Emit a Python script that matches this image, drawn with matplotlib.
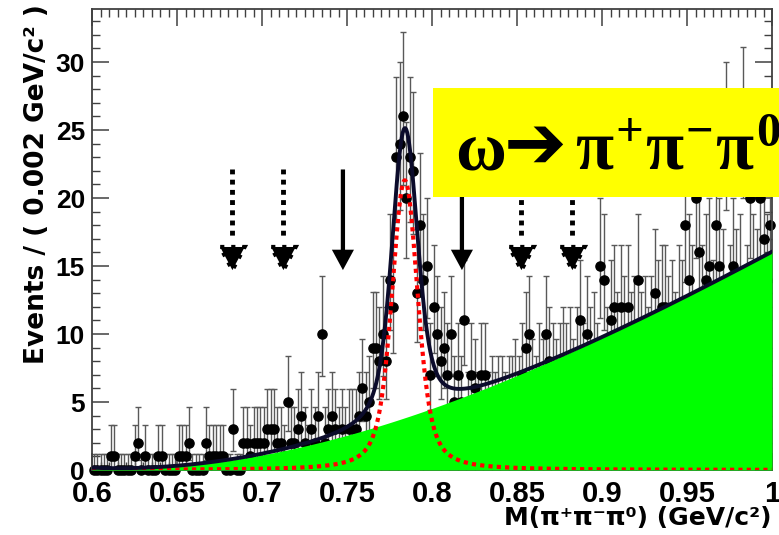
import matplotlib
matplotlib.use('Agg')
import matplotlib.pyplot as plt
from matplotlib.patches import Rectangle, Polygon
from matplotlib.ticker import MultipleLocator, FuncFormatter
import numpy as np

plt.rcParams['mathtext.fontset'] = 'custom'
plt.rcParams['mathtext.rm'] = 'Liberation Serif:bold'
plt.rcParams['mathtext.it'] = 'Liberation Serif:bold'
plt.rcParams['mathtext.bf'] = 'Liberation Serif:bold'

# 3-pion invariant mass, 200 bins of 2 MeV from 0.6 to 1.0 GeV
m_lo, m_hi, bin_w = 0.6, 1.0, 0.002
counts = [
    0, 0, 0, 0, 0, 1, 1, 0, 0, 0,
    0, 0, 1, 2, 0, 1, 0, 0, 0, 1,
    1, 0, 0, 0, 0, 1, 1, 1, 2, 0,
    0, 0, 0, 2, 1, 1, 1, 1, 1, 0,
    0, 3, 0, 0, 2, 2, 1, 2, 2, 2,
    2, 3, 3, 3, 2, 2, 1, 5, 2, 2,
    3, 4, 2, 1, 3, 2, 4, 10, 2, 3,
    4, 3, 2, 3, 2, 3, 3, 3, 4, 6,
    4, 5, 9, 9, 8, 10, 8, 14, 12, 23,
    24, 26, 20, 23, 22, 13, 18, 14, 15, 7,
    12, 10, 8, 9, 7, 10, 5, 7, 5, 11,
    4, 7, 6, 4, 7, 7, 4, 5, 4, 5,
    5, 4, 5, 5, 6, 5, 7, 9, 10, 6,
    5, 7, 6, 10, 8, 7, 6, 7, 8, 7,
    8, 6, 8, 11, 7, 10, 8, 9, 7, 15,
    14, 8, 11, 12, 9, 12, 10, 12, 9, 10,
    14, 9, 10, 8, 10, 13, 11, 12, 12, 10,
    11, 9, 12, 11, 18, 14, 12, 20, 16, 12,
    14, 15, 11, 18, 15, 13, 24, 12, 15, 13,
    14, 25, 12, 20, 14, 13, 20, 17, 14, 18,
]

# fit result: Breit-Wigner (x) Gaussian signal on a smooth background
omega_mass = 0.784
omega_width = 0.00849
resolution = 0.0055
signal_peak = 21.3
bkg_mass = [0.60, 0.65, 0.70, 0.75, 0.80, 0.85, 0.90, 0.95, 1.00]
bkg_level = [0.05, 0.40, 1.20, 2.60, 4.25, 6.90, 9.80, 13.0, 15.9]

# signal window and sidebands
signal_window = [0.7476, 0.8176]
sidebands = [0.6826, 0.7126, 0.8526, 0.8826]
arrow_top, arrow_tip = 22.1, 14.7

counts = np.array(counts, dtype=float)
centers = m_lo + bin_w * (np.arange(len(counts)) + 0.5)

# asymmetric poisson errors
lo_err = np.zeros_like(counts)
hi_err = np.zeros_like(counts)
nz = counts > 0
n = counts[nz]
lo_err[nz] = n - n * (1 - 1 / (9 * n) - 1 / (3 * np.sqrt(n))) ** 3
hi_err[nz] = 1 + np.sqrt(n + 0.75)
hi_err[~nz] = 1.148

xs = np.linspace(m_lo, m_hi, 1601)


def voigt(x):
    t = np.linspace(-6 * resolution, 6 * resolution, 801)
    g = np.exp(-0.5 * (t / resolution) ** 2)
    lor = 1.0 / ((np.atleast_1d(x)[:, None] - omega_mass - t[None, :]) ** 2 + (omega_width / 2) ** 2)
    return (lor * g).sum(axis=1)


sig = signal_peak * voigt(xs) / voigt(omega_mass)[0]
bkg = np.clip(np.polyval(np.polyfit(bkg_mass, bkg_level, 3), xs), 0, None)
total = sig + bkg

fig = plt.figure(figsize=(7.79, 5.35), dpi=100)
ax = fig.add_axes([92 / 779, 1 - 470 / 535, 680 / 779, 461 / 535])

eb = ax.errorbar(centers, counts, yerr=[lo_err, hi_err], fmt='o', ms=6.6,
                 mfc='k', mec='k', ecolor='0.35', elinewidth=1.0,
                 capsize=2, capthick=1.0, zorder=2)
eb[0].set_clip_on(False)

ax.fill_between(xs, 0, bkg, color='#00ff00', lw=0, zorder=3)
ax.plot(xs, sig, color='red', lw=3.0, ls=(0, (1.0, 1.0)), zorder=4)
ax.plot(xs, total, color='#0b0b2b', lw=2.8, zorder=5)

# signal window: solid arrows
for x in signal_window:
    ax.arrow(x, arrow_top, 0, arrow_tip - arrow_top, width=0.0025,
             head_width=0.013, head_length=1.5, length_includes_head=True,
             fc='k', ec='k', lw=0, zorder=7)

# sidebands: dotted arrows
for x in sidebands:
    ax.plot([x, x], [arrow_top, 17.0], color='k', lw=3.5,
            ls=(0, (1, 1.1)), zorder=7)
    head = Polygon([[x - 0.0072, 16.4], [x + 0.0072, 16.4], [x, arrow_tip]],
                   closed=True, fc='k', ec='k', lw=3, ls=':', zorder=7)
    ax.add_patch(head)

ax.set_xlim(m_lo, m_hi)
ax.set_ylim(0, 33.9)
ax.xaxis.set_major_locator(MultipleLocator(0.05))
ax.xaxis.set_minor_locator(MultipleLocator(0.005))
ax.yaxis.set_major_locator(MultipleLocator(5))
ax.yaxis.set_minor_locator(MultipleLocator(1))
ax.xaxis.set_major_formatter(FuncFormatter(lambda v, p: f'{v:g}'))
ax.tick_params(which='both', direction='in', top=True, right=True, color='0.25')
ax.tick_params(which='major', length=12, width=1.1)
ax.tick_params(which='minor', length=6, width=1.0)
ax.tick_params(axis='x', pad=7)
ax.tick_params(axis='y', pad=5)
for lab in ax.get_xticklabels():
    lab.set_fontfamily(['Liberation Sans Narrow', 'Liberation Sans'])
    lab.set_fontweight('bold')
    lab.set_fontsize(21)
for lab in ax.get_yticklabels():
    lab.set_fontfamily(['Liberation Sans Narrow', 'Liberation Sans'])
    lab.set_fontweight('bold')
    lab.set_fontsize(19)
for s in ax.spines.values():
    s.set_color('0.25')
    s.set_linewidth(1.3)

fig.text(37 / 779, 1 - 4 / 535, 'Events / ( 0.002 GeV/c² )', rotation=90,
         ha='center', va='top', fontsize=19, fontweight='bold',
         family='DejaVu Sans')
fig.text(772 / 779, 1 - 518 / 535, 'M(π⁺π⁻π⁰) (GeV/c²)', ha='right',
         va='center', fontsize=18, fontweight='bold', family='DejaVu Sans')

# decay label
fig.add_artist(Rectangle((433 / 779, 1 - 197 / 535), 0.46, 109 / 535,
                         transform=fig.transFigure, fc='#ffff00', ec='none',
                         zorder=10))
base = 1 - 170 / 535
fig.text(455 / 779, base, r'$\omega$', fontsize=50, va='baseline', zorder=11)
fig.text(504 / 779, base + 2 / 535, '➔', fontsize=54, fontweight='bold',
         family='DejaVu Sans', va='baseline', zorder=11)
fig.text(575 / 779, base, r'$\pi^{+}\pi^{-}\pi^{0}$', fontsize=50,
         va='baseline', zorder=11)

fig.savefig('out.png', dpi=100)
